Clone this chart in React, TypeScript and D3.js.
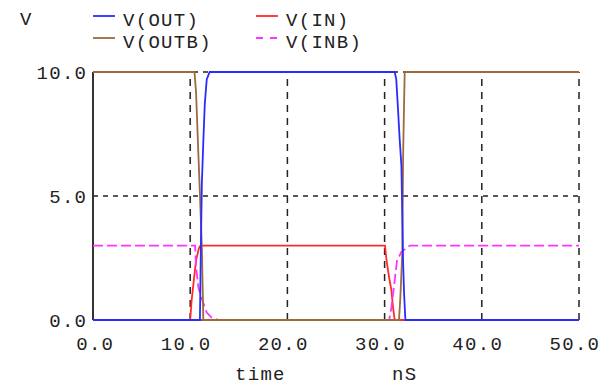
import * as d3 from "d3";

const W = 603;
const H = 387;
const m = { left: 93, right: 24, top: 72, bottom: 67 };

// time in nS, volts
const outPts: [number, number][] = [
  [0, 0], [11.0, 0], [11.1, 3], [11.2, 5.5], [11.35, 7.2], [11.5, 8.7], [11.7, 9.7], [12.0, 10],
  [31.04, 10], [31.2, 9.7], [31.38, 8.5], [31.55, 7.3], [31.73, 6.2], [31.9, 2.4], [32.0, 1.1], [32.14, 0],
  [50, 0],
];
const outbPts: [number, number][] = [
  [0, 10], [10.44, 10], [10.6, 9.2], [10.85, 6.6], [11.0, 5.1], [11.2, 2.9], [11.35, 0],
  [31.48, 0], [31.62, 0.9], [31.83, 2.8], [31.9, 6.5], [32.0, 8.7], [32.07, 10], [50, 10],
];
const inPts: [number, number][] = [
  [0, 0], [10.0, 0], [10.15, 0.8], [10.4, 1.7], [10.6, 2.4], [10.9, 2.9], [11.05, 3],
  [30.04, 3], [30.2, 2.4], [30.47, 1.7], [30.7, 1.2], [30.87, 0.5], [31.04, 0], [50, 0],
];
const inbPts: [number, number][] = [
  [0, 3], [10.5, 3], [10.6, 2.15], [10.85, 1.3], [11.0, 1.1], [11.35, 0.68], [11.7, 0.3], [12.2, 0.1], [12.9, 0],
  [30.47, 0], [30.7, 0.5], [31.04, 1.6], [31.28, 2.4], [31.73, 2.75], [32.6, 3], [50, 3],
];

const xTicks = [0, 10, 20, 30, 40, 50];
const yTicks = [0, 5, 10];

const series = [
  { name: "V(IN)", pts: inPts, color: "#ff2b2b", dash: null },
  { name: "V(INB)", pts: inbPts, color: "#ff33ff", dash: "10,4" },
  { name: "V(OUTB)", pts: outbPts, color: "#9c6a3c", dash: null },
  { name: "V(OUT)", pts: outPts, color: "#2b2bff", dash: null },
];

// legend layout: [column, row]
const legendPos: Record<string, [number, number]> = {
  "V(OUT)": [0, 0],
  "V(IN)": [1, 0],
  "V(OUTB)": [0, 1],
  "V(INB)": [1, 1],
};

const font = "'Liberation Mono', 'DejaVu Sans Mono', monospace";
const ls = 1.3;

export default function App() {
  const x = d3.scaleLinear().domain([0, 50]).range([m.left, W - m.right]);
  const y = d3.scaleLinear().domain([0, 10]).range([H - m.bottom, m.top]);
  const line = d3
    .line<[number, number]>()
    .x((d) => x(d[0]))
    .y((d) => y(d[1]));

  const txt = { fontFamily: font, fontSize: 19, letterSpacing: `${ls}px`, fill: "#222" };

  return (
    <svg
      width={W}
      height={H}
      style={{ position: "absolute", left: 0, top: 0, background: "#fff" }}
    >
      {/* grid */}
      {xTicks.slice(1).map((t) => (
        <line key={"gx" + t} x1={x(t)} x2={x(t)} y1={y(0)} y2={y(10)}
          stroke="#222" strokeWidth={1.5} strokeDasharray="7,6" />
      ))}
      {yTicks.slice(1).map((t) => (
        <line key={"gy" + t} x1={x(0)} x2={x(50)} y1={y(t)} y2={y(t)}
          stroke="#222" strokeWidth={1.5} strokeDasharray="5,5" />
      ))}
      <line x1={x(0)} x2={x(0)} y1={y(0)} y2={y(10)} stroke="#333" strokeWidth={2} />
      <line x1={x(0)} x2={x(50)} y1={y(0)} y2={y(0)} stroke="#333" strokeWidth={1.5} />

      {/* traces */}
      {series.map((s) => (
        <path key={s.name} d={line(s.pts) ?? ""} fill="none" stroke={s.color}
          strokeWidth={1.8} strokeDasharray={s.dash ?? undefined} />
      ))}

      {/* tick labels */}
      {xTicks.map((t) => (
        <text key={"xl" + t} x={x(t) + 20 + ls} y={350} textAnchor="end" style={txt}>
          {t.toFixed(1)}
        </text>
      ))}
      {yTicks.map((t) => (
        <text key={"yl" + t} x={86 + ls} y={y(t) + 6.5} textAnchor="end" style={txt}>
          {t.toFixed(1)}
        </text>
      ))}
      <text x={235} y={380} style={txt}>time</text>
      <text x={392} y={380} style={txt}>nS</text>

      {/* legend */}
      <text x={20} y={25} style={txt}>V</text>
      {series.map((s) => {
        const [c, r] = legendPos[s.name];
        const lx = 93 + c * 163;
        const ly = 16 + r * 22;
        return (
          <g key={"lg" + s.name}>
            <line x1={lx} x2={lx + 22} y1={ly} y2={ly} stroke={s.color} strokeWidth={1.8}
              strokeDasharray={s.dash ? "7,7" : undefined} />
            <text x={lx + 30} y={ly + 10} style={txt}>{s.name}</text>
          </g>
        );
      })}
    </svg>
  );
}
